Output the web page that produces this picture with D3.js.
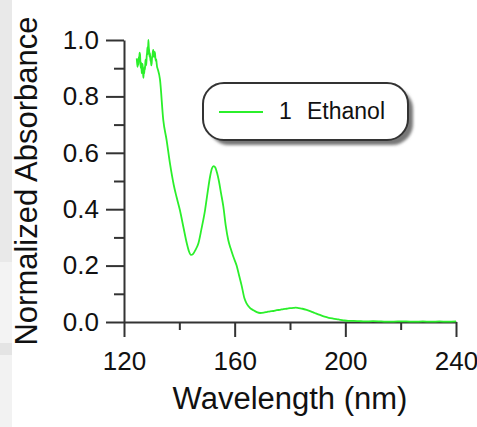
<!DOCTYPE html>
<html>
<head>
<meta charset="utf-8">
<script src="https://cdn.jsdelivr.net/npm/d3@7"></script>
<style>
  body { margin: 0; background: #fff; }
  svg { display: block; font-family: "Liberation Sans", Arial, sans-serif; }
</style>
</head>
<body>
<div id="chart"></div>
<script>
// Spectrum (nm, normalized absorbance)
const wavelength = [
  124.6, 124.75, 124.9, 125.05, 125.2, 125.35, 125.5, 125.65, 125.8, 125.95,
  126.1, 126.25, 126.4, 126.55, 126.7, 126.85, 127.0, 127.15, 127.3, 127.45,
  127.6, 127.75, 127.9, 128.05, 128.2, 128.35, 128.5, 128.65, 128.8, 128.95,
  129.1, 129.25, 129.4, 129.55, 129.7, 129.85, 130.0, 130.15, 130.3, 130.45,
  130.6, 130.75, 130.9, 131.05, 131.2, 131.35, 131.5, 131.65, 131.8, 131.95, 132.1,
  133.0, 134.2, 135.4, 136.6, 138.0, 139.0, 140.2, 141.5, 142.7, 143.5,
  144.2, 145.0, 145.8, 146.9, 148.0, 149.3, 150.3, 151.1, 151.8, 152.4,
  153.0, 153.6, 154.3, 155.1, 155.9, 156.8, 157.7, 158.5, 159.5, 160.7,
  161.6, 162.5, 163.5, 164.3, 165.5, 166.7, 168.0, 169.2, 170.5, 171.8,
  172.8, 174.0, 175.2, 176.4, 177.6, 178.8, 180.0, 181.2, 182.0, 183.2,
  184.5, 186.0, 187.5, 189.0, 190.8, 192.5, 194.0, 195.6, 197.5, 199.3,
  201, 203, 205, 207, 210, 213, 216, 219, 222, 225, 228, 231, 234, 237, 240
];
const absorbance = [
  0.935, 0.918, 0.905, 0.925, 0.912, 0.940, 0.935, 0.955, 0.948, 0.915,
  0.900, 0.920, 0.882, 0.905, 0.915, 0.890, 0.866, 0.885, 0.880, 0.905,
  0.895, 0.930, 0.925, 0.910, 0.942, 0.955, 0.975, 0.950, 1.000, 0.975,
  0.960, 0.940, 0.953, 0.925, 0.930, 0.910, 0.917, 0.938, 0.945, 0.960,
  0.965, 0.945, 0.940, 0.958, 0.953, 0.935, 0.925, 0.932, 0.917, 0.905, 0.900,
  0.860, 0.716, 0.645, 0.563, 0.485, 0.443, 0.397, 0.335, 0.279, 0.250,
  0.238, 0.242, 0.255, 0.279, 0.330, 0.397, 0.465, 0.515, 0.545, 0.553,
  0.548, 0.530, 0.500, 0.455, 0.410, 0.340, 0.290, 0.262, 0.232, 0.200,
  0.165, 0.130, 0.085, 0.066, 0.050, 0.042, 0.035, 0.032, 0.033, 0.036,
  0.038, 0.039, 0.042, 0.043, 0.046, 0.047, 0.049, 0.050, 0.051, 0.049,
  0.047, 0.043, 0.038, 0.032, 0.025, 0.019, 0.015, 0.012, 0.009, 0.006,
  0.004, 0.004, 0.003, 0.002, 0.003, 0.002, 0.001, 0.002, 0.002, 0.001,
  0.002, 0.001, 0.002, 0.001, 0.002
];
const xMajor = [120, 160, 200, 240];
const xMinor = [140, 180, 220];
const yMajor = [0.0, 0.2, 0.4, 0.6, 0.8, 1.0];
const yMinor = [0.1, 0.3, 0.5, 0.7, 0.9];
const seriesName = ["1", "Ethanol"];

const W = 477, H = 427;
const margin = {top: 40, right: 21, bottom: 105, left: 124};
const width = W - margin.left - margin.right;
const height = H - margin.top - margin.bottom;
const axisColor = "#333";
const lineColor = "#2bef2b";

const svg = d3.select("#chart").append("svg")
  .attr("width", W)
  .attr("height", H);

// grey strip at the left edge of the screenshot
const strip = [[0, 262, "#e9e9e9"], [262, 343, "#f3f3f3"], [343, 355, "#e4e4e4"], [355, 427, "#f2f2f2"]];
svg.selectAll("rect.strip").data(strip).enter().append("rect")
  .attr("class", "strip")
  .attr("x", 0).attr("width", 12)
  .attr("y", d => d[0]).attr("height", d => d[1] - d[0])
  .attr("fill", d => d[2]);

const defs = svg.append("defs");
defs.append("filter").attr("id", "blur")
  .append("feGaussianBlur").attr("stdDeviation", 1.6);

const g = svg.append("g")
  .attr("transform", `translate(${margin.left},${margin.top})`);

const x = d3.scaleLinear().domain([120, 240]).range([0, width]);
const y = d3.scaleLinear().domain([0, 1]).range([height, 0]);

// minor ticks first (no labels)
g.append("g")
  .attr("transform", `translate(0,${height})`)
  .call(d3.axisBottom(x).tickValues(xMinor).tickSize(8).tickSizeOuter(0).tickFormat(""))
  .call(a => a.select(".domain").remove());
g.append("g")
  .call(d3.axisLeft(y).tickValues(yMinor).tickSize(10).tickSizeOuter(0).tickFormat(""))
  .call(a => a.select(".domain").remove());

// major ticks + labels
g.append("g")
  .attr("transform", `translate(0,${height})`)
  .call(d3.axisBottom(x).tickValues(xMajor).tickSize(15).tickSizeOuter(0).tickPadding(15).tickFormat(d3.format("d")));
g.append("g")
  .call(d3.axisLeft(y).tickValues(yMajor).tickSize(18).tickSizeOuter(0).tickPadding(7).tickFormat(d3.format(".1f")));

g.selectAll(".tick line").attr("stroke", axisColor).attr("stroke-width", 2);
g.selectAll(".domain").attr("stroke", axisColor).attr("stroke-width", 2);
g.selectAll(".tick text")
  .attr("fill", "#111")
  .style("font-size", "26px")
  .style("font-family", "'Liberation Sans', Arial, sans-serif");

// spectrum
const pts = wavelength.map((w, i) => ({w: w, v: absorbance[i]}));
const line = d3.line()
  .x(d => x(d.w))
  .y(d => y(d.v))
  .curve(d3.curveMonotoneX);
g.append("path")
  .datum(pts)
  .attr("fill", "none")
  .attr("stroke", lineColor)
  .attr("stroke-width", 1.8)
  .attr("stroke-linejoin", "round")
  .attr("d", line);

// axis titles
svg.append("text")
  .attr("x", margin.left + width / 2)
  .attr("y", 409)
  .attr("text-anchor", "middle")
  .attr("fill", "#111")
  .style("font-size", "31px")
  .text("Wavelength (nm)");

svg.append("text")
  .attr("transform", `translate(37,${margin.top + height / 2}) rotate(-90)`)
  .attr("text-anchor", "middle")
  .attr("fill", "#111")
  .style("font-size", "31px")
  .text("Normalized Absorbance");

// legend
const legend = svg.append("g");
legend.append("rect")
  .attr("x", 208).attr("y", 88).attr("width", 205).attr("height", 57)
  .attr("rx", 21).attr("fill", "#777").attr("filter", "url(#blur)");
legend.append("rect")
  .attr("x", 203).attr("y", 83).attr("width", 205).attr("height", 57)
  .attr("rx", 21).attr("fill", "#fff")
  .attr("stroke", axisColor).attr("stroke-width", 2);
legend.append("line")
  .attr("x1", 219).attr("x2", 263).attr("y1", 112).attr("y2", 112)
  .attr("stroke", lineColor).attr("stroke-width", 2);
legend.append("text")
  .attr("x", 279).attr("y", 119)
  .attr("fill", "#111").style("font-size", "23px")
  .text(seriesName[0]);
legend.append("text")
  .attr("x", 307).attr("y", 119)
  .attr("fill", "#111").style("font-size", "23px")
  .text(seriesName[1]);
</script>
</body>
</html>
